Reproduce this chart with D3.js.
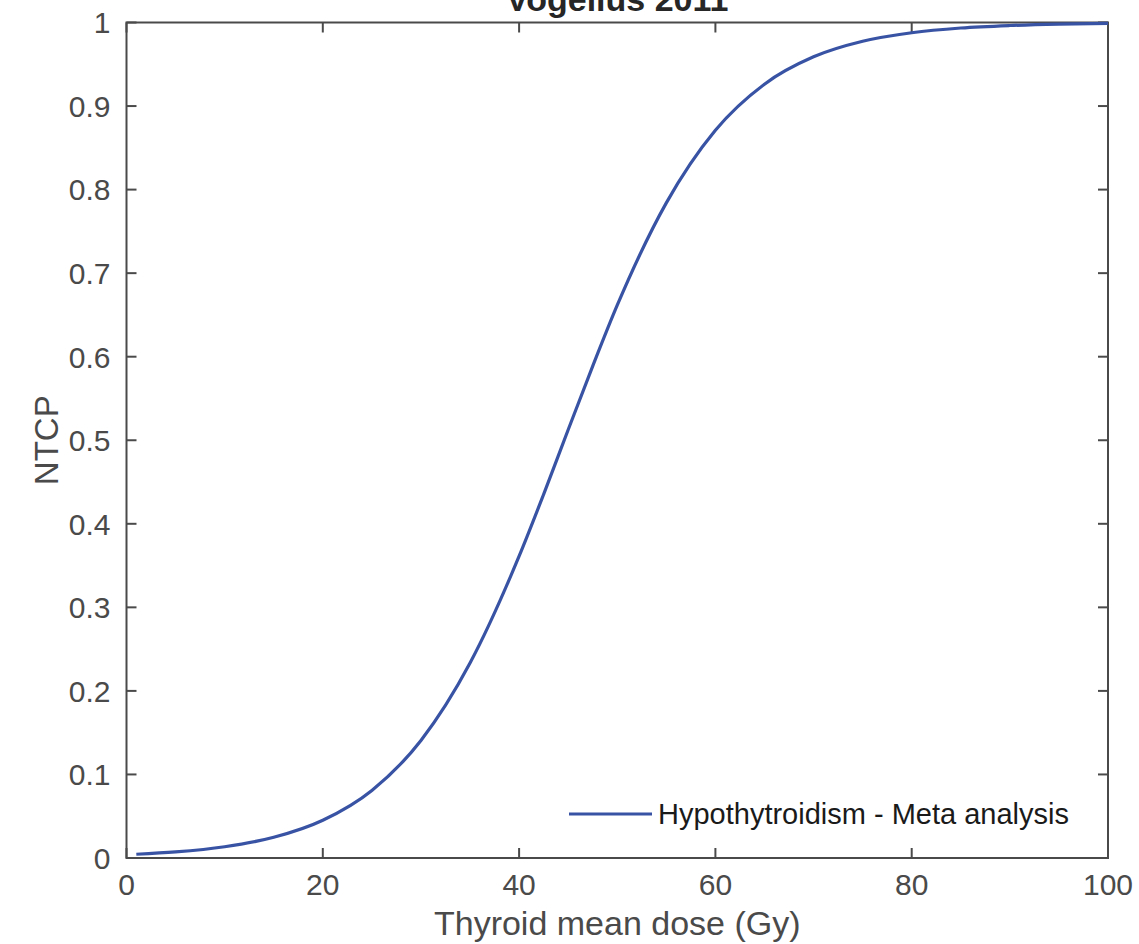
<!DOCTYPE html>
<html><head><meta charset="utf-8">
<script src="https://cdn.jsdelivr.net/npm/d3@7"></script>
<style>body{margin:0;background:#fff;} svg{display:block;font-family:"Liberation Sans",Arial,Helvetica,sans-serif;}</style>
</head><body>
<script>
const doses = [1,5,10,15,20,25,30,35,40,42.5,45,47.5,50,55,60,65,70,75,80,85,90,95,100];
const ntcp  = [0.0045,0.0073,0.0135,0.0248,0.0452,0.0809,0.1406,0.2333,0.3612,0.4353,0.5125,0.5887,0.6616,0.7841,0.8710,0.9262,0.9589,0.9775,0.9877,0.9934,0.9964,0.9981,0.9990];
const xTicks = [0,20,40,60,80,100];
const yTicks = [0,0.1,0.2,0.3,0.4,0.5,0.6,0.7,0.8,0.9,1];
const seriesName = "Hypothytroidism - Meta analysis";
const title = "Vogelius 2011";

const W=1139,H=944;
const m={l:126.5,t:22.5,r:W-1108,b:H-858};
const svg=d3.select("body").append("svg").attr("width",W).attr("height",H);
const x=d3.scaleLinear().domain([0,100]).range([m.l,W-m.r]);
const y=d3.scaleLinear().domain([0,1]).range([H-m.b,m.t]);
const axCol="#4a4a4a", txtCol="#4a4a4a";
const tl=10;

svg.append("rect").attr("x",x(0)).attr("y",y(1)).attr("width",x(100)-x(0)).attr("height",y(0)-y(1))
  .attr("fill","none").attr("stroke",axCol).attr("stroke-width",2);

const g=svg.append("g");
xTicks.forEach(t=>{
  g.append("line").attr("x1",x(t)).attr("x2",x(t)).attr("y1",y(0)).attr("y2",y(0)-tl).attr("stroke",axCol).attr("stroke-width",2);
  g.append("line").attr("x1",x(t)).attr("x2",x(t)).attr("y1",y(1)).attr("y2",y(1)+tl).attr("stroke",axCol).attr("stroke-width",2);
  g.append("text").attr("x",x(t)).attr("y",y(0)+37).attr("text-anchor","middle").attr("font-size",30).attr("fill",txtCol).text(String(t));
});
yTicks.forEach(t=>{
  g.append("line").attr("x1",x(0)).attr("x2",x(0)+tl).attr("y1",y(t)).attr("y2",y(t)).attr("stroke",axCol).attr("stroke-width",2);
  g.append("line").attr("x1",x(100)).attr("x2",x(100)-tl).attr("y1",y(t)).attr("y2",y(t)).attr("stroke",axCol).attr("stroke-width",2);
  g.append("text").attr("x",x(0)-16).attr("y",y(t)).attr("dy","0.36em").attr("text-anchor","end").attr("font-size",30).attr("fill",txtCol).text(String(+t.toFixed(1)));
});

const line=d3.line().x((d,i)=>x(doses[i])).y(d=>y(d)).curve(d3.curveMonotoneX);
svg.append("path").datum(ntcp).attr("d",line).attr("fill","none").attr("stroke","#3953a4").attr("stroke-width",3.2);

svg.append("text").attr("x",(x(0)+x(100))/2).attr("y",935).attr("text-anchor","middle").attr("font-size",34).attr("fill",txtCol).text("Thyroid mean dose (Gy)");
svg.append("text").attr("transform",`translate(58,${(y(0)+y(1))/2}) rotate(-90)`).attr("text-anchor","middle").attr("font-size",33).attr("fill",txtCol).text("NTCP");
svg.append("text").attr("x",(x(0)+x(100))/2).attr("y",11).attr("text-anchor","middle").attr("font-size",34).attr("font-weight","bold").attr("fill","#262626").text(title);

svg.append("line").attr("x1",569).attr("x2",652).attr("y1",814).attr("y2",814).attr("stroke","#3953a4").attr("stroke-width",3.2);
svg.append("text").attr("x",658).attr("y",814).attr("dy","0.36em").attr("font-size",29).attr("fill","#1a1a1a").text(seriesName);
</script>
</body></html>
